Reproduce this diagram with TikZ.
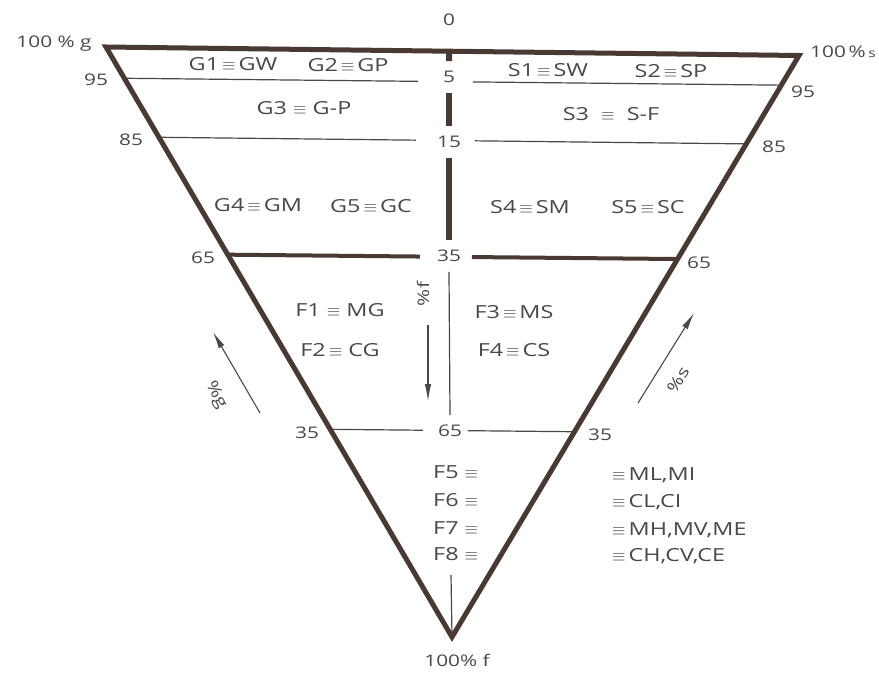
\documentclass[tikz,border=0pt]{standalone}
\usepackage{fontspec}
\setmainfont{Open Sans}[FakeStretch=1.3]
\usetikzlibrary{calc,arrows.meta}
\definecolor{edge}{RGB}{74,56,50}
\definecolor{ink}{RGB}{72,72,72}
\newcommand\eqv{{\fontsize{17}{17}\selectfont$\equiv$}}
\begin{document}
\begin{tikzpicture}[x=1pt,y=-1pt,
  every node/.style={font=\fontsize{16}{18}\selectfont, text=ink, inner sep=0pt},
  side/.style={draw=edge, line width=5pt, line join=miter},
  bold/.style={draw=edge, line width=4pt},
  col/.style={draw=edge, line width=6pt},
  thin/.style={draw=ink, line width=1.2pt},
  arr/.style={draw=ink, line width=1.1pt, -{Latex[length=17pt,width=6.5pt]}},
  cnum/.style={outer sep=10pt},
  field/.style={font=\fontsize{18}{20}\selectfont}]
\useasboundingbox (0,0) rectangle (879,677);
\fill[white] (0,0) rectangle (879,677);
% vertices
\coordinate (A) at (106,47);
\coordinate (B) at (799,55.5);
\coordinate (C) at (452,637);
\coordinate (T) at ($(A)!0.495!(B)$);
% side points
\coordinate (L95) at ($(A)!0.053!(C)$);
\coordinate (L85) at ($(A)!0.153!(C)$);
\coordinate (L65) at ($(A)!0.352!(C)$);
\coordinate (L35) at ($(A)!0.648!(C)$);
\coordinate (R95) at ($(B)!0.051!(C)$);
\coordinate (R85) at ($(B)!0.152!(C)$);
\coordinate (R65) at ($(B)!0.350!(C)$);
\coordinate (R35) at ($(B)!0.647!(C)$);
% inner ends
\coordinate (L95i) at ($(L95)!(418,80)!(R95)$);
\coordinate (R95i) at ($(L95)!(473,82)!(R95)$);
\coordinate (L85i) at ($(L85)!(416,140)!(R85)$);
\coordinate (R85i) at ($(L85)!(475,142)!(R85)$);
\coordinate (L65i) at ($(L65)!(420,257)!(R65)$);
\coordinate (R65i) at ($(L65)!(472,258)!(R65)$);
\coordinate (L35i) at ($(L35)!(423,431)!(R35)$);
\coordinate (R35i) at ($(L35)!(468,432)!(R35)$);
% horizontal lines
\draw[thin] (L95) -- (L95i);
\draw[thin] (R95i) -- (R95);
\draw[thin] (L85) -- (L85i);
\draw[thin] (R85i) -- (R85);
\draw[bold] (L65) -- (L65i);
\draw[bold] (R65i) -- (R65);
\draw[thin] (L35) -- (L35i);
\draw[thin] (R35i) -- (R35);
% centre column labels
\node[cnum] (c0) at (449,20) {0};
\node[cnum] (c5) at (449,77) {5};
\node[cnum] (c15) at (449,142) {15};
\node[cnum] (c35) at (449,256) {35};
\node[cnum] (c65) at (450,431) {65};
\draw[col] (T) -- (c5.north);
\draw[col] (c5.south) -- (c15.north);
\draw[col] (c15.south) -- (c35.north);
\draw[thin] (c35.south) -- (c65.north);
\coordinate (Fbot) at (451,575);
\draw[thin] (Fbot) -- (C);
% triangle
\draw[side] (A) -- (B) -- (C) -- cycle;
% corner labels
\node (pg) at (54,44) {100 \% g};
\node[anchor=west] (ps) at (810,52) {100\,\%\,{\fontsize{12}{12}\selectfont s}};
\node (pf) at (457,660) {100\% f};
% side numbers
\node (nl95) at (96,80) {95};
\node (nl85) at (131,140) {85};
\node (nl65) at (203,258) {65};
\node (nl35) at (307,433) {35};
\node (nr95) at (803,92) {95};
\node (nr85) at (774,147) {85};
\node (nr65) at (699,263) {65};
\node (nr35) at (600,435) {35};
% field labels
\node[field] (g1) at (233,64) {G1\,\eqv\,GW};
\node[field] (g2) at (348,65) {G2\,\eqv\,GP};
\node[field] (s1) at (548,70) {S1\,\eqv\,SW};
\node[field] (s2) at (671,71) {S2\,\eqv\,SP};
\node[field] (g3) at (304,108) {G3 \eqv{} G-P};
\node[field] (s3) at (611,114) {S3 \ \eqv{} \ S-F};
\node[field] (g4) at (258,205) {G4\,\eqv\,GM};
\node[field] (g5) at (371,206) {G5\,\eqv\,GC};
\node[field] (s4) at (530,207) {S4\,\eqv\,SM};
\node[field] (s5) at (648,207) {S5\,\eqv\,SC};
\node[field] (f1) at (340,310) {F1 \eqv{} MG};
\node[field] (f2) at (340,350) {F2\,\eqv{} CG};
\node[field] (f3) at (514,312) {F3\,\eqv\,MS};
\node[field] (f4) at (514,350) {F4\,\eqv\,CS};
\node[field,anchor=west] (f5) at (433,472) {F5 \eqv};
\node[field,anchor=west] (f6) at (433,500) {F6 \eqv};
\node[field,anchor=west] (f7) at (433,528) {F7 \eqv};
\node[field,anchor=west] (f8) at (433,554) {F8 \eqv};
\node[field,anchor=west] (f5r) at (612,475) {\eqv\,ML,MI};
\node[field,anchor=west] (f6r) at (612,502) {\eqv\,CL,CI};
\node[field,anchor=west] (f7r) at (612,530) {\eqv\,MH,MV,ME};
\node[field,anchor=west] (f8r) at (612,556) {\eqv\,CH,CV,CE};
% axis arrows
\node[rotate=90] (af) at (423,294) {\%f};
\node[rotate=-62] (ag) at (216,395) {\%g};
\node[rotate=58] (as) at (678,380) {\%s};
\coordinate (afs) at (428,325);
\coordinate (afe) at (428,401);
\coordinate (ags) at (260,413);
\coordinate (age) at (213,332);
\coordinate (ass) at (638,403);
\coordinate (ase) at (694,313);
\draw[arr] (afs) -- (afe);
\draw[arr] (ags) -- (age);
\draw[arr] (ass) -- (ase);
\end{tikzpicture}
\end{document}
